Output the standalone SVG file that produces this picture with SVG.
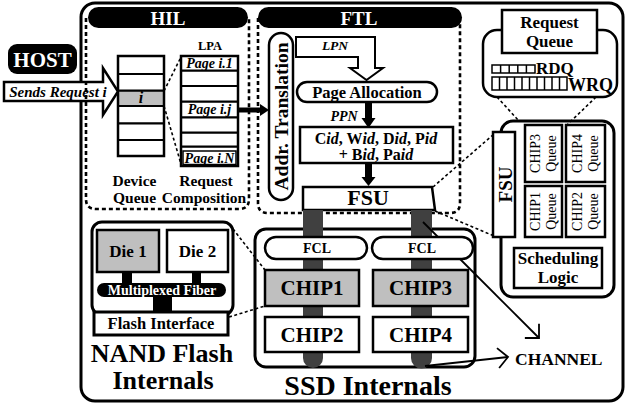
<svg xmlns="http://www.w3.org/2000/svg" width="626" height="406" viewBox="0 0 626 406">
<defs>
<style>
text{font-family:"Liberation Serif","DejaVu Serif",serif;font-weight:bold;fill:#000}
.w{fill:#fff}
.c{text-anchor:middle}
.it{font-style:italic}
.n{font-weight:normal}
.bx{fill:#fff;stroke:#000;stroke-width:2.5}
.gy{fill:#bfbfbf;stroke:#000;stroke-width:2.5}
.ln{stroke:#000;stroke-width:2.2;fill:none}
.dsh{fill:none;stroke:#000;stroke-width:2.6;stroke-dasharray:4 3}
.dl{fill:none;stroke:#000;stroke-width:1.6;stroke-dasharray:3 2.5}
.bar{fill:#404040}
.blk{fill:#000}
.th{stroke:#000;stroke-width:1.8;fill:none}
</style>
<marker id="chev" markerUnits="userSpaceOnUse" markerWidth="16" markerHeight="24" viewBox="-12 -12 14 24" refX="0" refY="0" orient="auto" overflow="visible">
<path d="M-10,-10 L0,0 L-10,10" fill="none" stroke="#000" stroke-width="1.8"/>
</marker>
</defs>
<rect width="626" height="406" fill="#fff"/>
<rect id="ssd-frame" x="81" y="3" width="542" height="398" rx="14" fill="none" stroke="#000" stroke-width="3"/>

<g id="host">
<rect x="8" y="44" width="69" height="30" rx="9" class="blk"/>
<text x="42.5" y="67" class="c w" font-size="21">HOST</text>
</g>

<g id="send-request">
<polygon points="4,82 103,82 103,68 118,91.5 103,115 103,101 4,101" class="bx" stroke-width="3"/>
<text x="58" y="96.5" class="c it" font-size="15">Sends Request i</text>
</g>

<g id="hil">
<path d="M86,18 V199 Q86,209 96,209 H239 Q249,209 249,199 V18" class="dsh"/>
<rect x="88" y="7" width="160" height="21" rx="10.5" class="blk"/>
<text x="168" y="25" class="c w" font-size="19">HIL</text>
</g>

<g id="device-queue">
<rect x="118" y="90.7" width="46" height="15.3" fill="#bfbfbf"/>
<rect x="118" y="56" width="46" height="100" fill="none" stroke="#000" stroke-width="2.5"/>
<path d="M118,74 H164 M118,90.7 H164 M118,106 H164 M118,123.3 H164 M118,140 H164" class="ln"/>
<text x="141" y="103" class="c it" font-size="16">i</text>
<text x="134.5" y="186" class="c" font-size="15.5">Device</text>
<text x="134.5" y="203" class="c" font-size="15.5">Queue</text>
</g>

<g id="request-composition">
<text x="210" y="50" class="c" font-size="12.5">LPA</text>
<rect x="181" y="56" width="57" height="110" class="bx"/>
<path d="M181,70.7 H238 M181,86 H238 M181,101.7 H238 M181,117.3 H238 M181,132.7 H238 M181,146.7 H238" class="ln"/>
<rect x="183" y="151" width="53" height="13.5" fill="none" stroke="#000" stroke-width="1.5"/>
<text x="209.5" y="68" class="c it" font-size="14">Page i.1</text>
<text x="209.5" y="114" class="c it" font-size="14">Page i.j</text>
<text x="209.5" y="162.5" class="c it" font-size="14">Page i.N</text>
<text x="206" y="186" class="c" font-size="15.5">Request</text>
<text x="204" y="203" class="c" font-size="15.5">Composition</text>
</g>

<g id="ftl">
<path d="M258,18 V203 Q258,213 268,213 H450 Q460,213 460,203 V18" class="dsh"/>
<rect x="258" y="7" width="204" height="21" rx="10.5" class="blk"/>
<text x="359" y="25" class="c w" font-size="19">FTL</text>
</g>

<g id="addr-translation">
<rect x="269" y="33" width="24" height="167" rx="12" class="bx"/>
<text transform="translate(288,116.5) rotate(-90)" class="c" font-size="19.5">Addr. Translation</text>
</g>

<g id="lpn">
<polygon points="296,37 375,37 375,68 383,68 366.5,80 350,68 358,68 358,57 296,57" fill="#fff" stroke="#000" stroke-width="2"/>
<text x="335" y="50" class="c it" font-size="13.5">LPN</text>
</g>

<g id="page-allocation">
<rect x="297" y="82" width="140" height="20" rx="10" class="bx" stroke-width="2"/>
<text x="367" y="97.5" class="c" font-size="16.5">Page Allocation</text>
<text x="344" y="121" class="c it" font-size="14">PPN</text>
</g>

<g id="address-fields">
<rect x="300" y="127" width="153" height="36" class="bx" stroke-width="2"/>
<text x="376" y="144" class="c" font-size="16">C<tspan class="it">id</tspan>, W<tspan class="it">id</tspan>, D<tspan class="it">id</tspan>, P<tspan class="it">id</tspan></text>
<text x="376" y="160" class="c" font-size="16">+ B<tspan class="it">id</tspan>, Pa<tspan class="it">id</tspan></text>
</g>

<g id="fsu-ftl">
<polygon points="303,187 432,187 435,210 303,210" class="bx" stroke-width="2"/>
<text x="368" y="205" class="c" font-size="22">FSU</text>
</g>

<g id="ssd-internals">
<rect x="255" y="229" width="220" height="138" rx="11" fill="none" stroke="#000" stroke-width="3"/>
<path d="M303,210 H323 V358 A10,10 0 0 1 303,358 Z" class="bar"/>
<path d="M411,210 H432 V358 A10.5,10.5 0 0 1 411,358 Z" class="bar"/>
<rect x="265" y="237" width="102" height="22" rx="11" class="bx" stroke-width="2"/>
<rect x="372" y="237" width="101" height="22" rx="11" class="bx" stroke-width="2"/>
<text x="317" y="253" class="c" font-size="14">FCL</text>
<text x="422" y="253" class="c" font-size="14">FCL</text>
<rect x="265" y="270" width="94" height="36" class="gy"/>
<rect x="265" y="317" width="94" height="35" class="bx"/>
<rect x="373" y="270" width="95" height="36" class="gy"/>
<rect x="373" y="317" width="95" height="35" class="bx"/>
<text x="312" y="295" class="c" font-size="21">CHIP1</text>
<text x="312" y="342" class="c" font-size="21">CHIP2</text>
<text x="420.5" y="295" class="c" font-size="21">CHIP3</text>
<text x="420.5" y="342" class="c" font-size="21">CHIP4</text>
<text x="368" y="395" class="c" font-size="28">SSD Internals</text>
</g>

<g id="nand-flash">
<rect x="92" y="222" width="141" height="93" rx="10" fill="none" stroke="#000" stroke-width="3"/>
<rect x="97" y="230" width="62" height="42" class="gy"/>
<rect x="167" y="230" width="61" height="42" class="bx"/>
<text x="128" y="257" class="c" font-size="17">Die 1</text>
<text x="197.5" y="257" class="c" font-size="17">Die 2</text>
<rect x="122" y="272" width="10" height="12" class="blk"/>
<rect x="192" y="272" width="9" height="12" class="blk"/>
<rect x="97" y="283" width="129" height="14" rx="7" class="blk"/>
<text x="162" y="294.5" class="c w" font-size="14">Multiplexed Fiber</text>
<rect x="153" y="296" width="19" height="17" class="blk"/>
<rect x="94" y="312" width="134" height="23" fill="#fff" stroke="#000" stroke-width="3"/>
<text x="161" y="328.5" class="c" font-size="16.5">Flash Interface</text>
<text x="162" y="362" class="c" font-size="26">NAND Flash</text>
<text x="163" y="389" class="c" font-size="26">Internals</text>
</g>

<g id="request-queue">
<rect x="483" y="30" width="134" height="67" rx="14" class="bx"/>
<rect x="502" y="10" width="95" height="43" class="bx" stroke-width="2"/>
<text x="549.5" y="28" class="c" font-size="17">Request</text>
<text x="549.5" y="47" class="c" font-size="17">Queue</text>
<rect x="492" y="65" width="43" height="8" fill="#fff" stroke="#000" stroke-width="1.5"/>
<path d="M500.6,65 V73 M509.2,65 V73 M517.8,65 V73 M526.4,65 V73" stroke="#000" stroke-width="1.5"/>
<text x="536" y="74" font-size="17">RDQ</text>
<rect x="492" y="77" width="75" height="13" fill="#fff" stroke="#000" stroke-width="1.5"/>
<path d="M499.5,77 V90 M507,77 V90 M514.5,77 V90 M522,77 V90 M529.5,77 V90 M537,77 V90 M544.5,77 V90 M552,77 V90 M559.5,77 V90" stroke="#000" stroke-width="1.5"/>
<text x="568" y="90.5" font-size="18">WRQ</text>
</g>

<g id="scheduler">
<rect x="501" y="121" width="113" height="176" rx="12" fill="#fff" stroke="#000" stroke-width="3"/>
<rect x="493" y="132" width="22" height="105" class="bx" stroke-width="2.2"/>
<text transform="translate(512,184.5) rotate(-90)" class="c" font-size="19">FSU</text>
<rect x="525" y="125" width="37" height="57" class="bx" stroke-width="2"/>
<rect x="566" y="125" width="39" height="57" class="bx" stroke-width="2"/>
<rect x="525" y="186" width="37" height="51" class="bx" stroke-width="2"/>
<rect x="566" y="186" width="39" height="51" class="bx" stroke-width="2"/>
<text transform="translate(540,153.5) rotate(-90)" class="c n" font-size="14">CHIP3</text>
<text transform="translate(556,153.5) rotate(-90)" class="c n" font-size="14">Queue</text>
<text transform="translate(582,153.5) rotate(-90)" class="c n" font-size="14">CHIP4</text>
<text transform="translate(598,153.5) rotate(-90)" class="c n" font-size="14">Queue</text>
<text transform="translate(540,211.5) rotate(-90)" class="c n" font-size="14">CHIP1</text>
<text transform="translate(556,211.5) rotate(-90)" class="c n" font-size="14">Queue</text>
<text transform="translate(582,211.5) rotate(-90)" class="c n" font-size="14">CHIP2</text>
<text transform="translate(598,211.5) rotate(-90)" class="c n" font-size="14">Queue</text>
<rect x="514" y="248" width="88" height="40" class="bx" stroke-width="2.2"/>
<text x="558" y="264" class="c" font-size="17">Scheduling</text>
<text x="558" y="282.5" class="c" font-size="17">Logic</text>
</g>

<g id="channel-label">
<text x="515" y="365" font-size="17.5">CHANNEL</text>
</g>

<g id="connectors">
<path d="M238,110 H262" stroke="#000" stroke-width="5"/>
<polygon points="260,104 269,110 260,116" class="blk"/>
<path d="M368.5,102 V119" stroke="#000" stroke-width="7"/>
<polygon points="361.5,118 375.5,118 368.5,128" class="blk"/>
<path d="M368.5,163 V178" stroke="#000" stroke-width="7"/>
<polygon points="361.5,177 375.5,177 368.5,186" class="blk"/>
<path d="M164,91 L181,57 M164,106 L181,164" class="dl" stroke-width="2"/>
<path d="M233,229 L265,270 M229,317 L265,306" class="dl"/>
<path d="M433,187 L494,134 M435,211 L494,236" class="dl"/>
<path d="M497,97 L519,121 M596,97 L566,126" class="dl"/>
<path d="M423,222 L438,237" class="th"/>
<path d="M460,259 L539,338" class="th" marker-end="url(#chev)"/>
<path d="M425,366 L508,357" class="th" marker-end="url(#chev)"/>
</g>
</svg>
